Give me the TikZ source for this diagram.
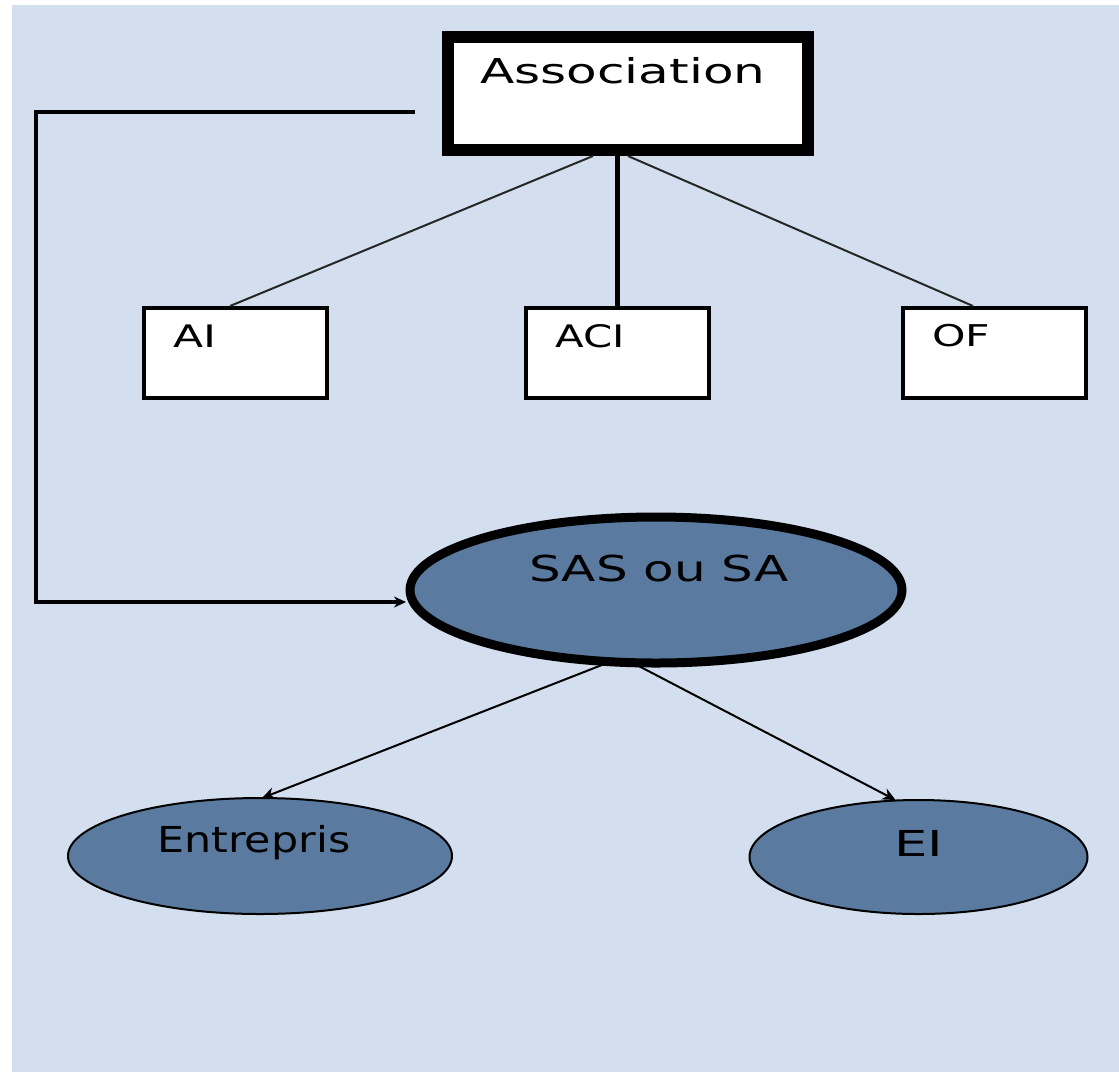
\documentclass[tikz,border=0pt]{standalone}
\usepackage{fontspec}
\usepackage{graphicx}
\setmainfont{DejaVu Sans}
\usetikzlibrary{arrows.meta,shapes.geometric}
\definecolor{bgblue}{HTML}{D3DFEE}
\definecolor{ellfill}{HTML}{5B7AA0}
\definecolor{thinline}{HTML}{262626}
\newcommand\lbltext[3]{\scalebox{#2}[1]{\fontsize{#1}{#1}\selectfont #3}}
\tikzset{
  boxnode/.style={draw=black, fill=white, rectangle, inner sep=0pt, outer sep=0pt, line width=4pt,
    minimum width=183pt, minimum height=90pt},
  topnode/.style={draw=black, fill=white, rectangle, inner sep=0pt, outer sep=0pt, line width=12pt,
    minimum width=360pt, minimum height=113pt},
  ellnode/.style={draw=black, fill=ellfill, ellipse, inner sep=0pt, outer sep=0pt, line width=2pt},
  txt/.style={anchor=base west, inner sep=0pt, text=black},
  thinconn/.style={draw=thinline, line width=2pt},
  thickconn/.style={draw=black, line width=5pt},
  fbconn/.style={draw=black, line width=4pt, line join=miter},
  arr/.style={draw=black, line width=2pt, -{Stealth[length=13pt,width=12pt]}},
}
\begin{document}
\begin{tikzpicture}[x=1pt,y=-1pt]
\useasboundingbox (0,0) rectangle (1119,1072);
\fill[bgblue] (12,5) rectangle (1119,1072);

% nodes
\node[topnode] (assoc) at (628,93.5) {};
\node[boxnode] (ai) at (235,353) {};
\node[boxnode] (aci) at (617,353) {};
\node[boxnode] (of) at (994,353) {};
\node[ellnode, line width=9pt, minimum width=492pt, minimum height=146pt] (sas) at (656,590) {};
\node[ellnode, minimum width=384pt, minimum height=116pt] (ent) at (260,856) {};
\node[ellnode, minimum width=338pt, minimum height=114pt] (ei) at (918.5,857) {};

% labels
\node[txt] (assoc-t) at (480,83) {\lbltext{34.3}{1.46}{Association}};
\node[txt] (ai-t) at (173,347.5) {\lbltext{31}{1.42}{AI}};
\node[txt] (aci-t) at (555,347.5) {\lbltext{31}{1.35}{ACI}};
\node[txt] (of-t) at (932,346.7) {\lbltext{30}{1.42}{OF}};
\node[txt] (sas-t) at (529,581) {\lbltext{35.7}{1.40}{SAS ou SA}};
\node[txt] (ent-t) at (157,852) {\lbltext{35.7}{1.2}{Entrepris}};
\node[txt] (ei-t) at (894,856) {\lbltext{35.7}{1.48}{EI}};

% connectors
\draw[thinconn] ([xshift=-35pt,yshift=-6pt]assoc.south) -- ([xshift=-5pt,yshift=2pt]ai.north);
\draw[thickconn] ([yshift=2pt]aci.north) -- (aci.north |- assoc.south);
\draw[thinconn] ([yshift=-6pt]assoc.south) -- ([xshift=-21pt,yshift=2pt]of.north);

\coordinate (fbstart) at ([xshift=-33pt,yshift=-18.5pt]assoc.west);
\draw[fbconn, -{Stealth[length=12pt,width=11pt]}] (fbstart) -- ++(-379pt,0pt)
  |- ([xshift=-4pt,yshift=-12pt]sas.west);

\draw[arr] ([xshift=-49pt]sas.south) -- ([xshift=2pt]ent.north);
\draw[arr] ([xshift=-23pt]sas.south) -- ([xshift=-23pt]ei.north);
\end{tikzpicture}
\end{document}
